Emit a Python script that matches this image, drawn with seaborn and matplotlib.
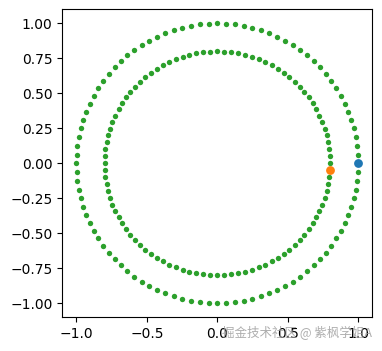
import numpy as np
import pandas as pd
import matplotlib
matplotlib.use("Agg")
import matplotlib.pyplot as plt
import seaborn as sns

# angles (degrees) of the points on each ring
angles_deg = [
    0.0, 3.6, 7.2, 10.8, 14.4, 18.0, 21.6, 25.2, 28.8, 32.4,
    36.0, 39.6, 43.2, 46.8, 50.4, 54.0, 57.6, 61.2, 64.8, 68.4,
    72.0, 75.6, 79.2, 82.8, 86.4, 90.0, 93.6, 97.2, 100.8, 104.4,
    108.0, 111.6, 115.2, 118.8, 122.4, 126.0, 129.6, 133.2, 136.8, 140.4,
    144.0, 147.6, 151.2, 154.8, 158.4, 162.0, 165.6, 169.2, 172.8, 176.4,
    180.0, 183.6, 187.2, 190.8, 194.4, 198.0, 201.6, 205.2, 208.8, 212.4,
    216.0, 219.6, 223.2, 226.8, 230.4, 234.0, 237.6, 241.2, 244.8, 248.4,
    252.0, 255.6, 259.2, 262.8, 266.4, 270.0, 273.6, 277.2, 280.8, 284.4,
    288.0, 291.6, 295.2, 298.8, 302.4, 306.0, 309.6, 313.2, 316.8, 320.4,
    324.0, 327.6, 331.2, 334.8, 338.4, 342.0, 345.6, 349.2, 352.8, 356.4,
]
ring_radius = [1.0, 0.8]

# highlighted points
blue_point = (1.0, 0.0)
orange_point = (0.8, -0.05)

rows = []
for r in ring_radius:
    for a in angles_deg:
        t = np.deg2rad(a)
        rows.append({"x": r * np.cos(t), "y": r * np.sin(t)})
rings = pd.DataFrame(rows)

fig = plt.figure(figsize=(3.82, 3.51), dpi=100)
ax = fig.add_axes([0.163, 0.096, 0.812, 0.8775])

sns.scatterplot(data=rings, x="x", y="y", color="#2ca02c", s=15, linewidth=0, ax=ax, zorder=2)
sns.scatterplot(x=[blue_point[0]], y=[blue_point[1]], color="#1f77b4", s=40, linewidth=0, ax=ax, zorder=3)
sns.scatterplot(x=[orange_point[0]], y=[orange_point[1]], color="#ff7f0e", s=40, linewidth=0, ax=ax, zorder=3)

ax.set_xlim(-1.1, 1.1)
ax.set_ylim(-1.1, 1.1)
ax.set_xticks([-1.0, -0.5, 0.0, 0.5, 1.0])
ax.set_yticks([-1.0, -0.75, -0.5, -0.25, 0.0, 0.25, 0.5, 0.75, 1.0])
ax.set_xlabel("")
ax.set_ylabel("")
ax.tick_params(labelsize=10)

# watermark, sits over the last x tick labels as in the reference
fig.text(0.975, 0.05, "掘金技术社区 @ 紫枫学姐A", ha="right", va="center",
         fontsize=9, color="#999999", alpha=0.8,
         family=["Noto Sans CJK SC", "DejaVu Sans"])

fig.savefig("out.png", dpi=100)
